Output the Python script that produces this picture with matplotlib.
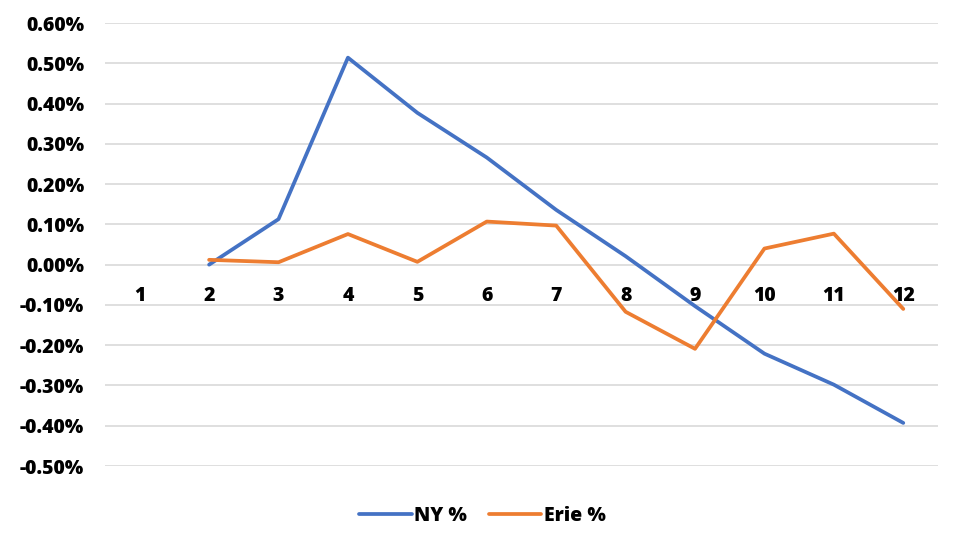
import numpy as np
import matplotlib.pyplot as plt
from matplotlib.ticker import FuncFormatter, MultipleLocator

months = list(range(1, 13))
ny_pct = [np.nan, 0.00, 0.113, 0.514, 0.377, 0.266, 0.136, 0.021, -0.103, -0.221, -0.298, -0.393]
erie_pct = [np.nan, 0.012, 0.006, 0.076, 0.007, 0.107, 0.097, -0.117, -0.209, 0.040, 0.077, -0.110]

plt.rcParams['font.family'] = ['Open Sans', 'DejaVu Sans']

fig = plt.figure(figsize=(9.65, 5.39), dpi=100)
ax = fig.add_axes([0.1088, 0.1354, 0.8632, 0.8219])

ax.plot(months, ny_pct, color="#4472C4", lw=2.7, label="NY %", solid_capstyle="round")
ax.plot(months, erie_pct, color="#ED7D31", lw=2.7, label="Erie %", solid_capstyle="round")

ax.set_xlim(0.5, 12.5)
ax.set_ylim(-0.5, 0.6)
ax.yaxis.set_major_locator(MultipleLocator(0.1))
ax.yaxis.set_major_formatter(FuncFormatter(lambda v, p: f"{v:.2f}%"))
ax.grid(axis="y", color="#D9D9D9", lw=1.2)
ax.set_axisbelow(True)

ax.set_xticks(months)
ax.set_xticklabels([str(m) for m in months])
ax.spines['bottom'].set_position(('data', 0))
for side in ("top", "right", "left", "bottom"):
    ax.spines[side].set_visible(False)
ax.tick_params(axis="x", length=0, pad=15.5, labelsize=14)
ax.tick_params(axis="y", length=0, pad=15, labelsize=14)
for lab in ax.get_xticklabels() + ax.get_yticklabels():
    lab.set_fontweight("heavy")

leg = fig.legend(loc="center", bbox_to_anchor=(0.5, 0.043), ncol=2, frameon=False,
                 prop={"weight": "heavy", "size": 14}, handlelength=2.7,
                 handletextpad=0.15, columnspacing=1.1)

fig.savefig("out.png", dpi=100)
